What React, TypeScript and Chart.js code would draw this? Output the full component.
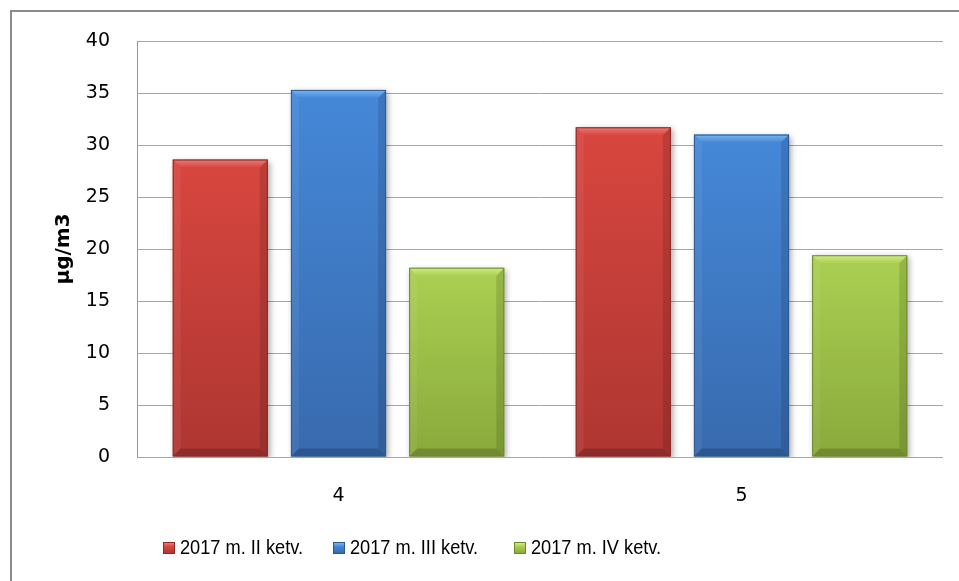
import React, { useEffect, useRef } from "react";
import { Chart, registerables } from "chart.js";

Chart.register(...registerables);

const categories = ["4", "5"];
const seriesNames = ["2017 m. II ketv.", "2017 m. III ketv.", "2017 m. IV ketv."];
const seriesQ2 = [28.6, 31.7];
const seriesQ3 = [35.3, 31.0];
const seriesQ4 = [18.2, 19.4];
const yTicks = [0, 5, 10, 15, 20, 25, 30, 35, 40];
const yTitle = "µg/m3";

const palette = [
  { top: "#D8463F", bottom: "#AE3632", light: "#EC7A74", edge: "#8A2926" },
  { top: "#4588D8", bottom: "#386AAE", light: "#7DB5EE", edge: "#2C5891" },
  { top: "#AAD052", bottom: "#8AA93C", light: "#D2EC86", edge: "#6D8A2C" },
];

const legendX = [163, 333, 514];

const bevelPlugin = {
  id: "bevel",
  beforeDatasetsDraw(chart: any) {
    const ctx = chart.ctx;
    ctx.save();
    ctx.shadowColor = "rgba(0,0,0,0.35)";
    ctx.shadowBlur = 6;
    ctx.shadowOffsetX = 2;
    ctx.shadowOffsetY = 2;
  },
  afterDatasetsDraw(chart: any) {
    const ctx = chart.ctx;
    ctx.restore();
    ctx.save();
    chart.data.datasets.forEach((ds: any, di: number) => {
      const meta = chart.getDatasetMeta(di);
      const col = palette[di];
      meta.data.forEach((el: any) => {
        const { x, y, base, width } = el.getProps(["x", "y", "base", "width"], true);
        const l = x - width / 2;
        const r = x + width / 2;
        const t = Math.min(y, base);
        const b = Math.max(y, base);
        const bv = 8;
        const g = ctx.createLinearGradient(0, t, 0, b);
        g.addColorStop(0, col.top);
        g.addColorStop(1, col.bottom);
        ctx.fillStyle = g;
        ctx.fillRect(l + 0.5, t + 0.5, width - 1, b - t - 1);
        ctx.beginPath();
        ctx.moveTo(l, t);
        ctx.lineTo(l + bv, t + bv);
        ctx.lineTo(l + bv, b - bv);
        ctx.lineTo(l, b);
        ctx.closePath();
        ctx.fillStyle = "rgba(255,255,255,0.06)";
        ctx.fill();
        ctx.beginPath();
        ctx.moveTo(r, t);
        ctx.lineTo(r - bv, t + bv);
        ctx.lineTo(r - bv, b - bv);
        ctx.lineTo(r, b);
        ctx.closePath();
        ctx.fillStyle = "rgba(0,0,0,0.12)";
        ctx.fill();
        ctx.beginPath();
        ctx.moveTo(l, b);
        ctx.lineTo(l + bv, b - bv);
        ctx.lineTo(r - bv, b - bv);
        ctx.lineTo(r, b);
        ctx.closePath();
        ctx.fillStyle = "rgba(0,0,0,0.18)";
        ctx.fill();
        ctx.beginPath();
        ctx.moveTo(l, t);
        ctx.lineTo(r, t);
        ctx.lineTo(r - bv, t + bv);
        ctx.lineTo(l + bv, t + bv);
        ctx.closePath();
        const tg = ctx.createLinearGradient(0, t, 0, t + bv);
        tg.addColorStop(0, col.light);
        tg.addColorStop(1, col.top);
        ctx.fillStyle = tg;
        ctx.fill();
        ctx.strokeStyle = col.edge;
        ctx.lineWidth = 1;
        ctx.strokeRect(l + 0.5, t + 0.5, width - 1, b - t - 1);
      });
    });
    ctx.restore();
  },
};

export default function App() {
  const ref = useRef<HTMLCanvasElement | null>(null);

  useEffect(() => {
    if (!ref.current) return;
    const sets = [seriesQ2, seriesQ3, seriesQ4];
    const chart = new Chart(ref.current, {
      type: "bar",
      data: {
        labels: categories,
        datasets: sets.map((d, i) => ({
          label: seriesNames[i],
          data: d,
          backgroundColor: palette[i].top,
          borderColor: palette[i].edge,
          borderWidth: 0,
          categoryPercentage: 0.88,
          barPercentage: 0.805,
        })),
      },
      options: {
        responsive: false,
        animation: false,
        layout: { padding: { left: 0, top: 41, right: 16, bottom: 64 } },
        plugins: {
          legend: { display: false },
          tooltip: { enabled: false },
        },
        scales: {
          x: {
            grid: { display: false },
            border: { display: false },
            ticks: {
              color: "#000",
              padding: 20,
              font: { family: "'DejaVu Sans', sans-serif", size: 19 },
            },
            afterFit: (s: any) => {
              s.height = 60;
            },
          },
          y: {
            min: 0,
            max: 40,
            afterBuildTicks: (s: any) => {
              s.ticks = yTicks.map((v) => ({ value: v }));
            },
            grid: { color: "#a6a6a6", lineWidth: 1, drawTicks: false },
            border: { display: true, color: "#999" },
            ticks: {
              color: "#000",
              padding: 27,
              font: { family: "'DejaVu Sans', sans-serif", size: 19 },
            },
            title: {
              display: true,
              text: yTitle,
              color: "#000",
              padding: { top: 52, bottom: 0 },
              font: { family: "'DejaVu Sans', sans-serif", size: 20, weight: "bold" },
            },
            afterFit: (s: any) => {
              s.width = 137;
            },
          },
        },
      },
      plugins: [bevelPlugin],
    });
    return () => chart.destroy();
  }, []);

  const legendBg = (i: number) =>
    `linear-gradient(180deg, ${palette[i].light} 0%, ${palette[i].top} 35%, ${palette[i].bottom} 100%)`;

  return (
    <div style={{ position: "fixed", left: 0, top: 0, width: 959, height: 581, background: "#fff", overflow: "hidden" }}>
      <div
        style={{
          position: "absolute",
          left: 10,
          top: 10,
          width: 1000,
          height: 700,
          borderLeft: "2px solid #8c8c8c",
          borderTop: "2px solid #8c8c8c",
        }}
      />
      <canvas ref={ref} width={959} height={581} style={{ position: "absolute", left: 0, top: 0, width: 959, height: 581 }} />
      {seriesNames.map((n, i) => (
        <div
          key={n}
          style={{
            position: "absolute",
            left: legendX[i],
            top: 536,
            display: "flex",
            alignItems: "center",
            fontFamily: "'Liberation Sans', sans-serif",
            fontSize: 20,
            color: "#000",
            whiteSpace: "nowrap",
          }}
        >
          <span
            style={{
              display: "inline-block",
              width: 12,
              height: 12,
              background: legendBg(i),
              border: `1px solid ${palette[i].edge}`,
              boxSizing: "border-box",
              marginRight: 5,
            }}
          />
          <span style={{ display: "inline-block", transform: "scaleX(0.91)", transformOrigin: "left center" }}>{n}</span>
        </div>
      ))}
    </div>
  );
}
